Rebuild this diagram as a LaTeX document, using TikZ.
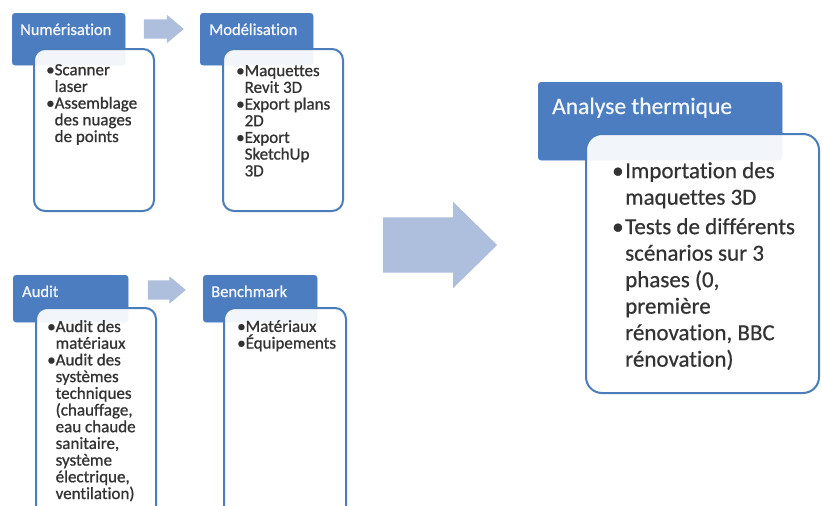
\documentclass[tikz,border=0pt]{standalone}
\usepackage{fontspec}
\setmainfont[Ligatures=NoCommon]{Carlito}
\newfontfamily\heavyfont[FakeBold=0.9,Ligatures=NoCommon]{Carlito}
\newfontfamily\bigfont[FakeBold=0.6,Ligatures=NoCommon]{Carlito}
\usetikzlibrary{shapes.arrows}
\definecolor{hdrblue}{HTML}{4B7DC0}
\definecolor{edgeblue}{HTML}{4A7DBA}
\definecolor{arrblue}{HTML}{AEBFDD}
\definecolor{bodytext}{HTML}{333333}
\definecolor{hdrwhite}{HTML}{F4F7FC}
\tikzset{
  hdrbox/.style={draw=hdrblue, fill=hdrblue, rounded corners=3pt, anchor=north west, inner sep=0pt},
  bodybox/.style={draw=edgeblue, line width=2pt, fill=white, fill opacity=0.93, rounded corners=11pt, anchor=north west, inner sep=0pt},
  bigbody/.style={bodybox, rounded corners=16pt},
  hdrtxt/.style={text=hdrwhite, anchor=base west, inner sep=0pt, font=\heavyfont\fontsize{16.5}{20}\selectfont},
  bighdrtxt/.style={hdrtxt, font=\bigfont\fontsize{23.5}{28}\selectfont},
  smalltxt/.style={text=bodytext, anchor=north west, inner sep=0pt, align=left, font=\heavyfont\fontsize{17}{16.7}\selectfont},
  bigtxt/.style={text=bodytext, anchor=north west, inner sep=0pt, align=left, font=\bigfont\fontsize{23}{26.5}\selectfont},
  blockarrow/.style={single arrow, fill=arrblue, draw=none, inner xsep=0pt, single arrow head indent=0pt}
}
\newcommand{\bl}{\textbullet}
\newcommand{\ind}{\hphantom{\textbullet}}
\newcommand{\bbl}{\makebox[13pt][l]{\textbullet}}
\newcommand{\bind}{\hspace*{13pt}}
\begin{document}
\begin{tikzpicture}[x=1pt,y=-1pt]
\useasboundingbox (0,0) rectangle (822,506);
\path[clip] (0,0) rectangle (822,506);

% Numerisation
\node[hdrbox, minimum width=113pt, minimum height=52pt] (numh) at (12,13) {};
\node[hdrtxt] (numl) at (20,35) {Numérisation};
\node[bodybox, minimum width=120pt, minimum height=162pt] (numb) at (33,48) {};
\node[smalltxt] (numt) at (46,64) {\bl Scanner\\\ind laser\\\bl Assemblage\\\ind des nuages\\\ind de points};

% Modelisation
\node[hdrbox, minimum width=113pt, minimum height=52pt] (modh) at (200,13) {};
\node[hdrtxt] (modl) at (209,35) {Modélisation};
\node[bodybox, minimum width=120pt, minimum height=162pt] (modb) at (222,48) {};
\node[smalltxt] (modt) at (236,65) {\bl Maquettes\\\ind Revit 3D\\\bl Export plans\\\ind 2D\\\bl Export\\\ind SketchUp\\\ind 3D};

% Audit
\node[hdrbox, minimum width=115pt, minimum height=47pt] (audh) at (13,275) {};
\node[hdrtxt] (audl) at (22,297) {Audit};
\node[bodybox, minimum width=120pt, minimum height=210pt] (audb) at (35,307) {};
\node[smalltxt] (audt) at (47,320) {\bl Audit des\\\ind matériaux\\\bl Audit des\\\ind systèmes\\\ind techniques\\\ind (chauffage,\\\ind eau chaude\\\ind sanitaire,\\\ind système\\\ind électrique,\\\ind ventilation)};

% Benchmark
\node[hdrbox, minimum width=114pt, minimum height=47pt] (benh) at (203,275) {};
\node[hdrtxt] (benl) at (211,297) {Benchmark};
\node[bodybox, minimum width=122pt, minimum height=210pt] (benb) at (223,307) {};
\node[smalltxt] (bent) at (237,320) {\bl Matériaux\\\bl Équipements};

% Analyse thermique
\node[hdrbox, minimum width=244pt, minimum height=78pt] (anah) at (538,82) {};
\node[bighdrtxt] (anal) at (552,114) {Analyse thermique};
\node[bigbody, minimum width=233pt, minimum height=259pt] (anab) at (585,133) {};
\node[bigtxt] (anat) at (612,162) {\bbl Importation des\\\bind maquettes 3D\\[3pt]\bbl Tests de différents\\\bind scénarios sur 3\\\bind phases (0,\\\bind première\\\bind rénovation, BBC\\\bind rénovation)};

% arrows
\node[blockarrow, inner ysep=9.5pt, minimum height=40pt, minimum width=28pt, single arrow head extend=4.5pt, single arrow tip angle=80] (ar1) at (158,29) {};
\node[blockarrow, inner ysep=9.5pt, minimum height=38pt, minimum width=27pt, single arrow head extend=4pt, single arrow tip angle=80] (ar2) at (161,290) {};
\node[blockarrow, inner ysep=27.5pt, minimum height=114pt, minimum width=86pt, single arrow head extend=15.5pt, single arrow tip angle=89] (ar3) at (426,245) {};
\end{tikzpicture}
\end{document}
